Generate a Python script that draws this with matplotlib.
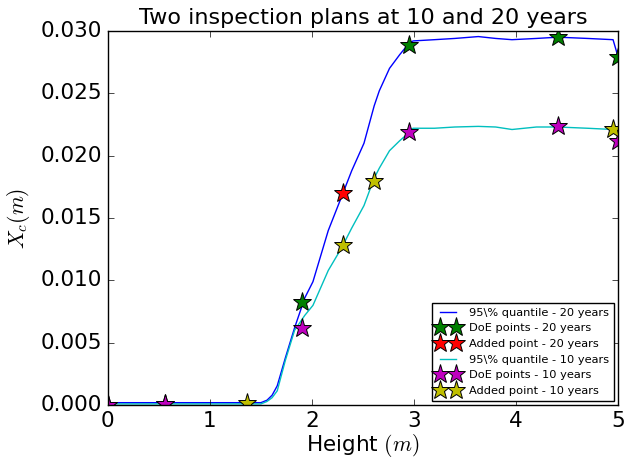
import matplotlib
matplotlib.use('Agg')
import matplotlib.pyplot as plt

plt.style.use('classic')

# heights along the wall (m) and 95% quantiles of X_c
height = [0.0, 0.5, 1.0, 1.5, 1.56, 1.61, 1.66, 1.74, 1.83, 1.93, 2.01, 2.16, 2.29,
          2.39, 2.51, 2.61, 2.66, 2.76, 2.86, 2.93, 2.99, 3.2, 3.4, 3.63, 3.8,
          3.96, 4.2, 4.41, 4.7, 4.95, 5.0]
q95_20 = [0.0002, 0.0002, 0.0002, 0.0002, 0.0004, 0.0008, 0.00155, 0.0038, 0.0062,
          0.0086, 0.0099, 0.0140, 0.0167, 0.0188, 0.0210, 0.0240, 0.0252, 0.0270,
          0.0281, 0.0288, 0.0292, 0.0293, 0.0294, 0.02955, 0.0294, 0.0293, 0.0294,
          0.0295, 0.0294, 0.0293, 0.0279]
q95_10 = [0.0001, 0.0001, 0.0001, 0.0001, 0.0003, 0.0006, 0.00115, 0.0036, 0.0060,
          0.0072, 0.0080, 0.0108, 0.0126, 0.0142, 0.0160, 0.0182, 0.0190, 0.0204,
          0.0212, 0.0217, 0.0222, 0.0222, 0.0223, 0.02235, 0.0223, 0.0221, 0.0223,
          0.0223, 0.0222, 0.0221, 0.0218]

# design of experiments points
doe_x = [0.0, 0.56, 1.9, 2.95, 4.41, 5.0]
doe_20 = [0.0, 0.0001, 0.0083, 0.0289, 0.02955, 0.02795]
doe_10 = [0.0, 0.0001, 0.0062, 0.02187, 0.0224, 0.02115]

# added points
add20_x = [2.3]
add20_y = [0.01703]
add10_x = [1.36, 2.3, 2.61, 4.95]
add10_y = [0.0002, 0.01284, 0.01797, 0.02213]

fig = plt.figure(figsize=(6.34, 4.62), dpi=100)
ax = fig.add_axes([0.170, 0.123, 0.805, 0.810])

ms = 14
ax.plot(height, q95_20, 'b-', lw=1, label=r'95\% quantile - 20 years')
ax.plot(doe_x, doe_20, 'g*', ms=ms, mec='k', mew=0.7, label='DoE points - 20 years')
ax.plot(add20_x, add20_y, 'r*', ms=ms, mec='k', mew=0.7, label='Added point - 20 years')
ax.plot(height, q95_10, 'c-', lw=1, label=r'95\% quantile - 10 years')
ax.plot(doe_x, doe_10, 'm*', ms=ms, mec='k', mew=0.7, label='DoE points - 10 years')
ax.plot(add10_x, add10_y, 'y*', ms=ms, mec='k', mew=0.7, label='Added point - 10 years')

ax.set_xlim(0, 5)
ax.set_ylim(0, 0.030)
ax.tick_params(labelsize=15.5)
ax.set_xlabel(r'Height $(m)$', fontsize=15.5, labelpad=1)
ax.set_ylabel(r'$X_c (m)$', fontsize=15.5, labelpad=6)
ax.set_title('Two inspection plans at 10 and 20 years', fontsize=16)

ax.legend(loc='lower right', fontsize=8.2, numpoints=2, borderaxespad=0.4,
          labelspacing=0.5)

fig.savefig('out.png', dpi=100)
